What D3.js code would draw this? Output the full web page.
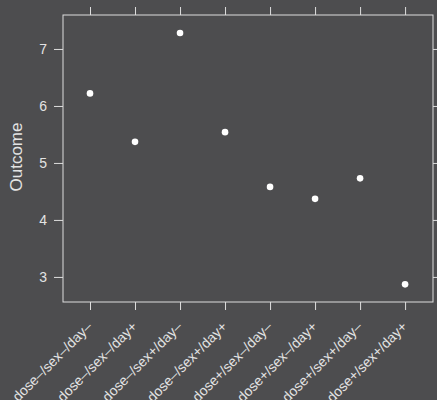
<!DOCTYPE html>
<html>
<head>
<meta charset="utf-8">
<script src="https://cdn.jsdelivr.net/npm/d3@7"></script>
<style>
  body { margin: 0; background: #4d4d4f; }
  svg { display: block; }
  text { font-family: "Liberation Sans", Arial, sans-serif; fill: #e3e3e3; }
</style>
</head>
<body>
<div id="chart"></div>
<script>
const categories = ['dose\u2013/sex\u2013/day\u2013', 'dose\u2013/sex\u2013/day+', 'dose\u2013/sex+/day\u2013', 'dose\u2013/sex+/day+',
  'dose+/sex\u2013/day\u2013', 'dose+/sex\u2013/day+', 'dose+/sex+/day\u2013', 'dose+/sex+/day+'];
const outcomes = [6.22, 5.37, 7.28, 5.54, 4.58, 4.37, 4.73, 2.87];
const yTicks = [3, 4, 5, 6, 7];

const width = 437, height = 400;
const box = { left: 63, right: 433, top: 15, bottom: 302 };
const lineColor = '#dedede';

const svg = d3.select('#chart').append('svg')
  .attr('width', width)
  .attr('height', height);

svg.append('rect')
  .attr('width', width).attr('height', height)
  .attr('fill', '#4d4d4f');

const x = d3.scaleLinear().domain([0.4, 8.62]).range([box.left, box.right]);
const y = d3.scaleLinear().domain([2.56, 7.596]).range([box.bottom, box.top]);
const idx = d3.range(1, categories.length + 1);

// frame
svg.append('rect')
  .attr('x', box.left).attr('y', box.top)
  .attr('width', box.right - box.left).attr('height', box.bottom - box.top)
  .attr('fill', 'none').attr('stroke', lineColor).attr('stroke-width', 1);

const axisStyle = g => {
  g.select('.domain').remove();
  g.selectAll('.tick line').attr('stroke', lineColor);
};

svg.append('g')
  .attr('transform', `translate(${box.left},0)`)
  .call(d3.axisLeft(y).tickValues(yTicks).tickSize(9).tickPadding(7).tickFormat(d3.format('d')))
  .call(axisStyle)
  .call(g => g.selectAll('.tick text').attr('fill', '#e3e3e3').style('font-size', '14px'));

svg.append('g')
  .attr('transform', `translate(${box.right},0)`)
  .call(d3.axisRight(y).tickValues(yTicks).tickSize(5).tickFormat(''))
  .call(axisStyle);

svg.append('g')
  .attr('transform', `translate(0,${box.top})`)
  .call(d3.axisTop(x).tickValues(idx).tickSize(8).tickFormat(''))
  .call(axisStyle);

const bottomAxis = svg.append('g')
  .attr('transform', `translate(0,${box.bottom})`)
  .call(d3.axisBottom(x).tickValues(idx).tickSize(8).tickFormat(''))
  .call(axisStyle);

bottomAxis.selectAll('.tick')
  .append('text')
  .attr('transform', 'translate(2.5,25.5) rotate(-45)')
  .attr('text-anchor', 'end')
  .style('font-size', '14px')
  .attr('fill', '#e3e3e3')
  .text((d, i) => categories[i]);

svg.append('text')
  .attr('transform', `translate(22,157) rotate(-90)`)
  .attr('text-anchor', 'middle')
  .style('font-size', '17px')
  .text('Outcome');

svg.append('g')
  .selectAll('circle')
  .data(outcomes)
  .join('circle')
  .attr('cx', (d, i) => x(i + 1))
  .attr('cy', d => y(d))
  .attr('r', 3.3)
  .attr('fill', '#ffffff');
</script>
</body>
</html>
